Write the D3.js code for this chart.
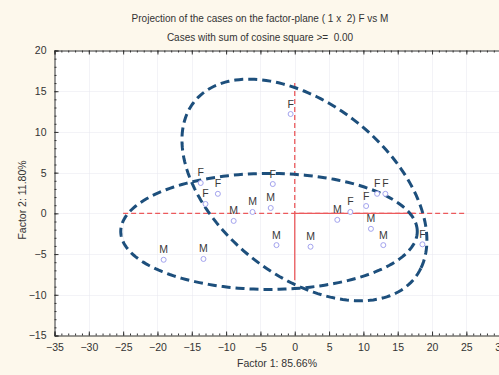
<!DOCTYPE html>
<html>
<head>
<meta charset="utf-8">
<script src="https://cdn.jsdelivr.net/npm/d3@7"></script>
<style>
  html, body { margin: 0; padding: 0; background: #fdf8ec; }
  svg { display: block; font-family: "Liberation Sans", Arial, sans-serif; }
  .title { white-space: pre; }
</style>
</head>
<body>
<svg id="chart" width="499" height="375"></svg>
<script>
// Case coordinates on factor 1 (x) and factor 2 (y), with group label
const caseLabels = ["F","F","F","F","F","M","M","M","M","M","M","M","F","F","F","F","M","M","M","F"];
const factor1 = [-0.6,-13.7,-11.2,-13.0,-3.2,-6.15,-3.5,-8.9,-2.66,-19.1,-13.3,6.2,8.1,10.4,12.0,13.2,11.1,12.9,2.3,18.6];
const factor2 = [12.2,3.73,2.4,1.15,3.6,0.17,0.66,-0.93,-3.9,-5.7,-5.6,-0.8,0.17,0.9,2.4,2.4,-1.9,-3.9,-4.1,-3.8];

// Group ellipses: centre, semi-axes and rotation (degrees) in factor units
const ellipseCx = [-3.75, 1.41];
const ellipseCy = [-2.22, 2.87];
const ellipseRx = [21.6, 19.5];
const ellipseRy = [7.12, 11.1];
const ellipseAngle = [0, -29.4];

// Axis ticks
const xTicks = [-35,-30,-25,-20,-15,-10,-5,0,5,10,15,20,25,30,35];
const yTicks = [-15,-10,-5,0,5,10,15,20];

const svg = d3.select("#chart");
const W = 499, H = 375;
svg.append("rect").attr("width", W).attr("height", H).attr("fill", "#fdf8ec");

const x = d3.scaleLinear().domain([-35, 35]).range([54.5, 535]);
const y = d3.scaleLinear().domain([-15, 20]).range([335.5, 50.5]);

// Plot area
svg.append("rect")
  .attr("x", x(-35)).attr("y", y(20))
  .attr("width", x(35) - x(-35)).attr("height", y(-15) - y(20))
  .attr("fill", "#ffffff");

// Faint grid at major ticks
const grid = svg.append("g").attr("stroke", "#e6e6ee").attr("stroke-width", 1).attr("stroke-dasharray", "1,1");
xTicks.slice(1, -1).forEach(t => grid.append("line")
  .attr("x1", Math.round(x(t)) + 0.5).attr("x2", Math.round(x(t)) + 0.5)
  .attr("y1", y(20)).attr("y2", y(-15)));
yTicks.slice(1, -1).forEach(t => grid.append("line")
  .attr("y1", Math.round(y(t)) + 0.5).attr("y2", Math.round(y(t)) + 0.5)
  .attr("x1", x(-35)).attr("x2", x(35)));

// Axes with inward major and minor ticks
const minorX = d3.range(-35, 36, 1);
const minorY = d3.range(-15, 21, 1);
function drawAxis(gen, transform, minorGen) {
  svg.append("g").attr("transform", transform).call(minorGen)
    .call(g => { g.selectAll("text").remove(); g.select(".domain").remove(); })
    .selectAll("line").attr("stroke", "#333");
  const g = svg.append("g").attr("transform", transform).call(gen);
  g.select(".domain").attr("stroke", "#333");
  g.selectAll("line").attr("stroke", "#333");
  return g;
}
const axisBottomG = drawAxis(
  d3.axisBottom(x).tickValues(xTicks).tickSize(-4).tickPadding(8).tickFormat(d3.format("d")),
  `translate(0,${y(-15)})`,
  d3.axisBottom(x).tickValues(minorX).tickSize(-2));
axisBottomG.selectAll("text").attr("font-size", 10.5).attr("fill", "#333");

drawAxis(
  d3.axisTop(x).tickValues(xTicks).tickSize(-4).tickFormat(""),
  `translate(0,${y(20)})`,
  d3.axisTop(x).tickValues(minorX).tickSize(-2));

const axisLeftG = drawAxis(
  d3.axisLeft(y).tickValues(yTicks).tickSize(-4).tickPadding(8).tickFormat(d3.format("d")),
  `translate(${x(-35)},0)`,
  d3.axisLeft(y).tickValues(minorY).tickSize(-2));
axisLeftG.selectAll("text").attr("font-size", 10.5).attr("fill", "#333");

drawAxis(
  d3.axisRight(y).tickValues(yTicks).tickSize(-4).tickFormat(""),
  `translate(${x(35)},0)`,
  d3.axisRight(y).tickValues(minorY).tickSize(-2));

// Reference lines through the origin
const red = "#ec5a5c";
svg.append("line").attr("x1", x(-25)).attr("x2", x(25)).attr("y1", y(0)).attr("y2", y(0))
  .attr("stroke", red).attr("stroke-width", 1.3).attr("stroke-dasharray", "5,3");
svg.append("line").attr("x1", x(0)).attr("x2", x(0)).attr("y1", y(16)).attr("y2", y(0))
  .attr("stroke", red).attr("stroke-width", 1.3).attr("stroke-dasharray", "5,3");
svg.append("line").attr("x1", x(0)).attr("x2", x(17.5)).attr("y1", y(0)).attr("y2", y(0))
  .attr("stroke", red).attr("stroke-width", 1.3);
svg.append("line").attr("x1", x(0)).attr("x2", x(0)).attr("y1", y(0)).attr("y2", y(-8.2))
  .attr("stroke", red).attr("stroke-width", 1.3);

// Group ellipses
const line = d3.line().x(d => x(d[0])).y(d => y(d[1])).curve(d3.curveLinearClosed);
ellipseCx.forEach((cx, i) => {
  const phi = ellipseAngle[i] * Math.PI / 180;
  const pts = d3.range(0, 360, 2).map(a => {
    const t = a * Math.PI / 180;
    const ex = ellipseRx[i] * Math.cos(t), ey = ellipseRy[i] * Math.sin(t);
    return [cx + ex * Math.cos(phi) - ey * Math.sin(phi),
            ellipseCy[i] + ex * Math.sin(phi) + ey * Math.cos(phi)];
  });
  svg.append("path").attr("d", line(pts))
    .attr("fill", "none").attr("stroke", "#1d4f7c")
    .attr("stroke-width", 3).attr("stroke-dasharray", "9,5");
});

// Case markers and labels
const cases = caseLabels.map((l, i) => ({ label: l, f1: factor1[i], f2: factor2[i] }));
const pg = svg.append("g");
pg.selectAll("circle").data(cases).join("circle")
  .attr("cx", d => x(d.f1)).attr("cy", d => y(d.f2)).attr("r", 2.5)
  .attr("fill", "#ffffff").attr("stroke", "#a3a3ee").attr("stroke-width", 1);
pg.selectAll("text").data(cases).join("text")
  .attr("x", d => x(d.f1)).attr("y", d => y(d.f2) - 6.5)
  .attr("text-anchor", "middle").attr("font-size", 10.5).attr("fill", "#3a3a3a")
  .text(d => d.label);

// Titles
svg.append("text").attr("class", "title").attr("x", 260).attr("y", 21.5).attr("text-anchor", "middle")
  .attr("font-size", 10).attr("fill", "#333")
  .text("Projection of the cases on the factor-plane ( 1 x  2) F vs M");
svg.append("text").attr("class", "title").attr("x", 260).attr("y", 41).attr("text-anchor", "middle")
  .attr("font-size", 10).attr("fill", "#333")
  .text("Cases with sum of cosine square >=  0.00");
svg.append("text").attr("x", 277).attr("y", 367).attr("text-anchor", "middle")
  .attr("font-size", 10.5).attr("fill", "#333").text("Factor 1: 85.66%");
svg.append("text").attr("transform", "translate(26,200) rotate(-90)").attr("text-anchor", "middle")
  .attr("font-size", 10.5).attr("fill", "#333").text("Factor 2: 11.80%");
</script>
</body>
</html>
